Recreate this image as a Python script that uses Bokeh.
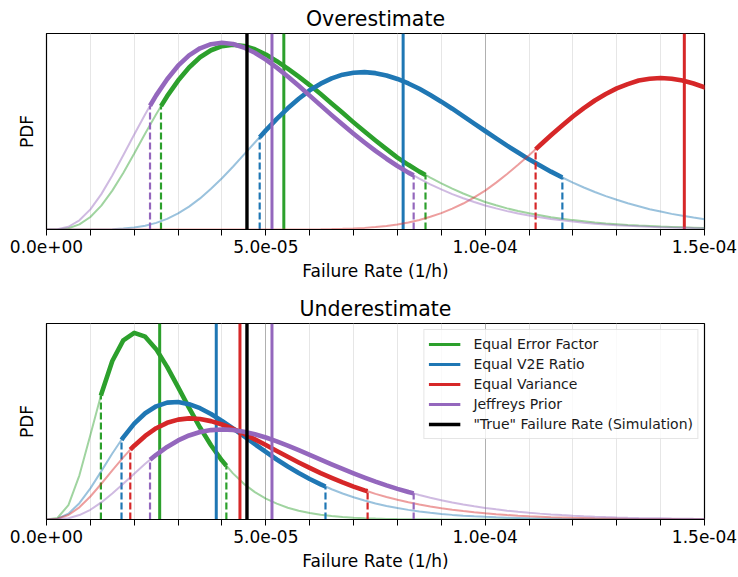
from bokeh.plotting import figure
from bokeh.models import Range1d, FixedTicker, Legend, LegendItem
from bokeh.layouts import column
from bokeh.embed import file_html
from bokeh.resources import INLINE

# ---------------- data (failure rate in 1e-6 per hour, pdf in relative units) ----------------
rate_per_mh = [0, 2.5, 5, 7.5, 10, 12.5, 15, 17.5, 20, 22.5, 25, 27.5, 30, 32.5, 35, 37.5,
               40, 42.5, 45, 47.5, 50, 52.5, 55, 57.5, 60, 62.5, 65, 67.5, 70, 72.5, 75, 77.5,
               80, 82.5, 85, 87.5, 90, 92.5, 95, 97.5, 100, 102.5, 105, 107.5, 110, 112.5,
               115, 117.5, 120, 122.5, 125, 127.5, 130, 132.5, 135, 137.5, 140, 142.5, 145,
               147.5, 150]

methods = ["Equal Error Factor", "Equal V2E Ratio", "Equal Variance", "Jeffreys Prior"]
true_label = '"True" Failure Rate (Simulation)'

# Overestimate scenario
over_eef = [0, 0.0005, 0.0066, 0.026, 0.064, 0.122, 0.199, 0.289, 0.389, 0.491, 0.590, 0.682,
            0.762, 0.829, 0.881, 0.917, 0.938, 0.945, 0.939, 0.922, 0.895, 0.861, 0.823, 0.782,
            0.739, 0.693, 0.645, 0.597, 0.548, 0.501, 0.455, 0.411, 0.368, 0.331, 0.296, 0.265,
            0.236, 0.209, 0.184, 0.162, 0.141, 0.124, 0.108, 0.095, 0.083, 0.073, 0.063, 0.055,
            0.048, 0.042, 0.036, 0.031, 0.027, 0.023, 0.020, 0.0175, 0.015, 0.013, 0.011,
            0.0095, 0.008]
over_v2e = [0, 0, 0, 0, 0.0001, 0.0006, 0.0019, 0.0047, 0.0103, 0.0196, 0.034, 0.0546,
            0.0821, 0.117, 0.159, 0.208, 0.262, 0.321, 0.383, 0.445, 0.507, 0.566, 0.620, 0.669,
            0.712, 0.746, 0.773, 0.792, 0.802, 0.805, 0.800, 0.788, 0.770, 0.747, 0.720, 0.688,
            0.654, 0.618, 0.580, 0.542, 0.504, 0.466, 0.429, 0.394, 0.359, 0.327, 0.296, 0.267,
            0.240, 0.215, 0.192, 0.171, 0.152, 0.134, 0.119, 0.104, 0.092, 0.080, 0.070,
            0.061, 0.053]
over_var = [0, 0, 0, 0, 0, 0, 0, 0, 0, 0, 0, 0,
            0, 0, 0, 0, 0, 0, 0, 0, 0, 0.0001, 0.0001, 0.0003,
            0.0006, 0.0011, 0.002, 0.0034, 0.0053, 0.0083, 0.0125, 0.0183, 0.026, 0.036, 0.049,
            0.065, 0.084, 0.107, 0.133, 0.164, 0.199, 0.240, 0.284, 0.331, 0.380, 0.431, 0.482,
            0.531, 0.578, 0.621, 0.660, 0.693, 0.722, 0.744, 0.762, 0.771, 0.775, 0.771, 0.762,
            0.747, 0.728]
jeffreys = [0, 0.0016, 0.0141, 0.047, 0.103, 0.181, 0.276, 0.380, 0.486, 0.590, 0.686, 0.769,
            0.838, 0.891, 0.927, 0.948, 0.955, 0.949, 0.931, 0.904, 0.869, 0.828, 0.783, 0.735,
            0.685, 0.635, 0.585, 0.537, 0.490, 0.445, 0.402, 0.362, 0.325, 0.291, 0.260, 0.231,
            0.205, 0.181, 0.160, 0.1405, 0.123, 0.108, 0.094, 0.0823, 0.072, 0.0623, 0.054,
            0.0469, 0.0405, 0.0349, 0.030, 0.0259, 0.0223, 0.0192, 0.0165, 0.0141, 0.0121,
            0.0103, 0.0088, 0.0075, 0.0064]
over_p10 = [26.1, 48.6, 111.5, 23.6]
over_p10_pdf = [0.631, 0.472, 0.410, 0.633]
over_p90 = [86.4, 117.6, 182.3, 83.7]
over_p90_pdf = [0.279, 0.266, 0.287, 0.277]
over_mean = [54.1, 81.3, 145.4, 51.4]

# Underestimate scenario
under_eef = [0, 0.016, 0.153, 0.468, 0.896, 1.330, 1.680, 1.899, 1.979, 1.938, 1.806, 1.618,
             1.403, 1.184, 0.975, 0.787, 0.625, 0.489, 0.378, 0.290, 0.222, 0.168, 0.125, 0.093,
             0.068, 0.051, 0.037, 0.026, 0.019, 0.0134, 0.0095, 0.0066, 0.0046, 0.0032, 0.0022,
             0.0015, 0.001, 0.0007, 0.0005, 0.0003, 0.0002, 0.0001, 0.0001, 0, 0, 0, 0, 0,
             0, 0, 0, 0, 0, 0, 0, 0, 0, 0, 0, 0, 0]
under_v2e = [0, 0.009, 0.062, 0.173, 0.330, 0.513, 0.699, 0.871, 1.016, 1.126, 1.200, 1.239,
             1.245, 1.223, 1.180, 1.119, 1.046, 0.966, 0.883, 0.798, 0.716, 0.636, 0.562, 0.493,
             0.430, 0.373, 0.321, 0.276, 0.236, 0.201, 0.170, 0.144, 0.121, 0.102, 0.085, 0.071,
             0.059, 0.049, 0.041, 0.034, 0.028, 0.023, 0.019, 0.016, 0.013, 0.0105, 0.0084,
             0.0069, 0.0056, 0.0046, 0.0037, 0.003, 0.0024, 0.002, 0.0016, 0.0013, 0.001,
             0.0008, 0.0007, 0.0005, 0.0004]
under_var = [0, 0.0076, 0.048, 0.129, 0.244, 0.379, 0.521, 0.658, 0.782, 0.886, 0.968, 1.025,
             1.059, 1.072, 1.065, 1.043, 1.007, 0.962, 0.909, 0.850, 0.790, 0.727, 0.666, 0.605,
             0.547, 0.492, 0.441, 0.393, 0.349, 0.309, 0.272, 0.239, 0.209, 0.183, 0.159, 0.138,
             0.119, 0.103, 0.089, 0.077, 0.066, 0.056, 0.048, 0.041, 0.035, 0.030, 0.025,
             0.0215, 0.018, 0.0155, 0.013, 0.011, 0.0093, 0.0078, 0.0066, 0.0056, 0.0047,
             0.004, 0.0033, 0.0028, 0.0023]
under_p10 = [12.4, 17.1, 19.1, 23.6]
under_p10_pdf = [1.314, 0.845, 0.740, 0.633]
under_p90 = [41.0, 63.6, 73.2, 83.7]
under_p90_pdf = [0.571, 0.350, 0.300, 0.277]
under_mean = [25.8, 38.7, 44.1, 51.4]

true_rate = 45.7

tick_values = [0.0, 5e-5, 1e-4, 1.5e-4]
tick_labels = ["0.0e+00", "5.0e-05", "1.0e-04", "1.5e-04"]
minor_tick_values = [1e-5, 2e-5, 3e-5, 4e-5, 6e-5, 7e-5, 8e-5, 9e-5, 1.1e-4, 1.2e-4, 1.3e-4, 1.4e-4]

# ---------------- styling ----------------
colors = ["#2ca02c", "#1f77b4", "#d62728", "#9467bd"]
FONT = "DejaVu Sans"
MICRO = 1e-6
rate = [r * MICRO for r in rate_per_mh]


def make_panel(title, pdfs, p10, p10_pdf, p90, p90_pdf, means, top_border, bottom_border):
    ymax = 1.05 * max(max(c) for c in pdfs)
    p = figure(frame_width=658, frame_height=196, output_backend="svg", toolbar_location=None,
               x_range=Range1d(0, 1.5e-4), y_range=Range1d(0, ymax),
               min_border_left=46, min_border_right=34, min_border_top=top_border,
               min_border_bottom=bottom_border, title=title)
    p.title.align = "center"
    p.title.text_font = FONT
    p.title.text_font_size = "20.5px"
    p.title.text_font_style = "normal"
    p.title.text_color = "black"
    p.title.standoff = 5
    p.title.offset = 0

    p.outline_line_color = "black"
    p.outline_line_width = 1.2
    p.background_fill_color = "white"
    p.border_fill_color = "white"

    xa = p.xaxis[0]
    xa.ticker = FixedTicker(ticks=tick_values, minor_ticks=minor_tick_values)
    xa.major_label_overrides = {v: s for v, s in zip(tick_values, tick_labels)}
    xa.major_label_text_font = FONT
    xa.major_label_text_font_size = "17px"
    xa.major_label_text_color = "black"
    xa.major_tick_out = 6
    xa.major_tick_in = 0
    xa.minor_tick_out = 6
    xa.minor_tick_in = 0
    xa.major_label_standoff = 4
    xa.axis_label = "Failure Rate (1/h)"
    xa.axis_label_text_font = FONT
    xa.axis_label_text_font_size = "17px"
    xa.axis_label_text_font_style = "normal"
    xa.axis_label_text_color = "black"
    xa.axis_label_standoff = 5
    xa.axis_line_color = "black"
    xa.major_tick_line_color = "black"
    xa.minor_tick_line_color = "black"

    ya = p.yaxis[0]
    ya.ticker = FixedTicker(ticks=[])
    ya.major_tick_out = 0
    ya.major_tick_in = 0
    ya.minor_tick_out = 0
    ya.minor_tick_in = 0
    ya.major_label_standoff = 0
    ya.axis_label = "PDF"
    ya.axis_label_text_font = FONT
    ya.axis_label_text_font_size = "17px"
    ya.axis_label_text_font_style = "normal"
    ya.axis_label_text_color = "black"
    ya.axis_label_standoff = 10
    ya.axis_line_color = "black"

    p.xgrid.ticker = FixedTicker(ticks=tick_values, minor_ticks=minor_tick_values)
    p.xgrid.grid_line_color = "#b0b0b0"
    p.xgrid.grid_line_width = 1
    p.xgrid.minor_grid_line_color = "#e6e6e6"
    p.xgrid.minor_grid_line_width = 1
    p.ygrid.grid_line_color = None

    mean_renderers = []
    for i in range(len(pdfs)):
        c = colors[i]
        lo, hi = p10[i] * MICRO, p90[i] * MICRO
        pts = sorted(list(zip(rate, pdfs[i])) + [(lo, p10_pdf[i]), (hi, p90_pdf[i])])
        p.line([q[0] for q in pts], [q[1] for q in pts], line_color=c, line_alpha=0.45,
               line_width=2)
        band = [q for q in pts if lo <= q[0] <= hi]
        p.line([q[0] for q in band], [q[1] for q in band], line_color=c, line_width=4.6,
               line_join="round")
        p.segment(x0=[lo, hi], y0=[0, 0], x1=[lo, hi], y1=[p10_pdf[i], p90_pdf[i]],
                  line_color=c, line_width=2.2, line_dash="7 3")
        m = means[i] * MICRO
        r = p.segment(x0=[m], y0=[0], x1=[m], y1=[ymax], line_color=c, line_width=3)
        mean_renderers.append(r)
    t = true_rate * MICRO
    r = p.segment(x0=[t], y0=[0], x1=[t], y1=[ymax], line_color="black", line_width=3.4)
    mean_renderers.append(r)
    return p, mean_renderers


p1, _ = make_panel("Overestimate", [over_eef, over_v2e, over_var, jeffreys],
                   over_p10, over_p10_pdf, over_p90, over_p90_pdf, over_mean, 33, 59)
p2, rends = make_panel("Underestimate", [under_eef, under_v2e, under_var, jeffreys],
                       under_p10, under_p10_pdf, under_p90, under_p90_pdf, under_mean, 35, 54)

# legend on the lower panel
items = [LegendItem(label=name, renderers=[r]) for name, r in zip(methods + [true_label], rends)]
legend = Legend(items=items, location="top_right")
legend.margin = 6
legend.padding = 4
legend.spacing = 0
legend.label_height = 20
legend.glyph_height = 20
legend.glyph_width = 32
legend.label_standoff = 13
legend.label_text_font = FONT
legend.label_text_font_size = "14px"
legend.label_text_color = "#1a1a1a"
legend.border_line_color = "#cccccc"
legend.border_line_width = 1
legend.background_fill_color = "white"
legend.background_fill_alpha = 0.8
p2.add_layout(legend)

layout = column(p1, p2)
open("out.html", "w").write(file_html(layout, INLINE))
